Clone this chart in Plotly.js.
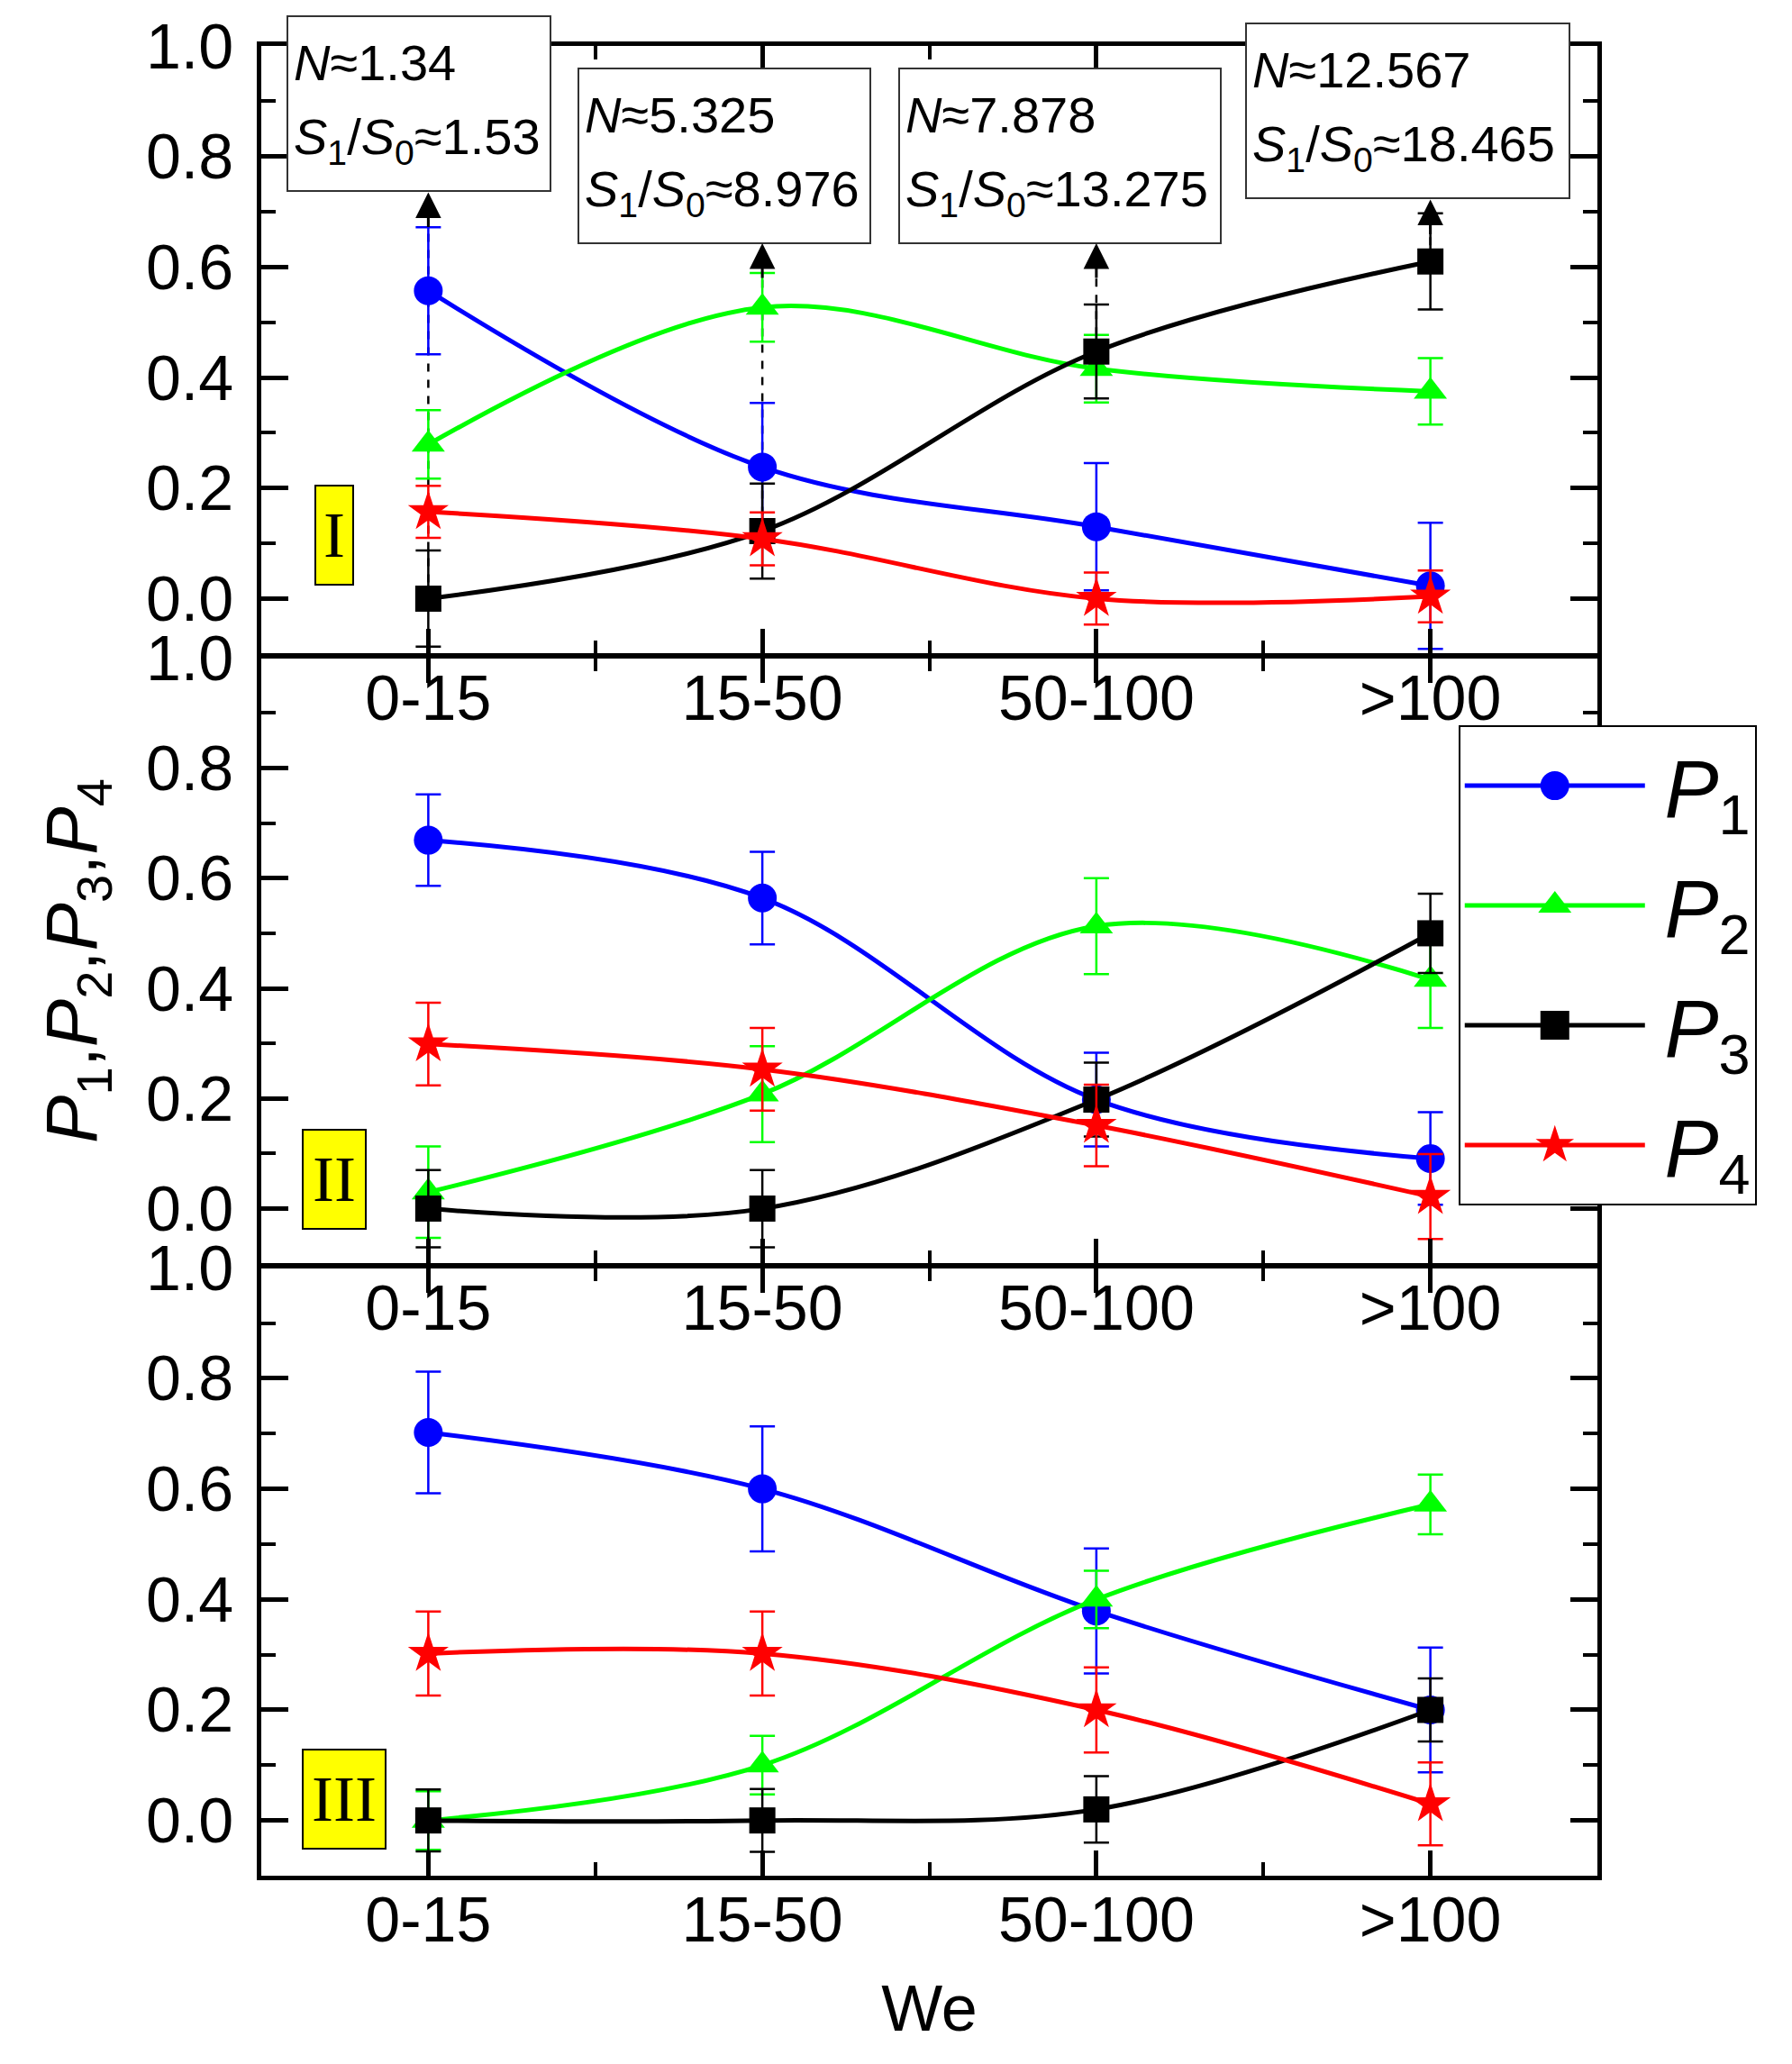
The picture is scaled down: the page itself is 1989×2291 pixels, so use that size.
<!DOCTYPE html>
<html>
<head>
<meta charset="utf-8">
<script src="https://cdn.plot.ly/plotly-3.0.1.min.js"></script>
<style>
  html, body { margin: 0; padding: 0; background: #fff; }
  #chart { width: 1989px; height: 2291px; }
</style>
</head>
<body>
<div id="chart"></div>
<script>
const categories = ['0-15', '15-50', '50-100', '>100'];
const panelLabels = ['I', 'II', 'III'];

// panel I
const p1Panel1 = [0.557, 0.238, 0.130, 0.023];
const p2Panel1 = [0.279, 0.527, 0.416, 0.375];
const p3Panel1 = [0.000, 0.122, 0.447, 0.610];
const p4Panel1 = [0.157, 0.108, 0.000, 0.004];
const p1ErrPanel1 = [0.115, 0.116, 0.115, 0.114];
const p2ErrPanel1 = [0.062, 0.062, 0.061, 0.060];
const p3ErrPanel1 = [0.087, 0.086, 0.085, 0.087];
const p4ErrPanel1 = [0.047, 0.048, 0.047, 0.047];

// panel II
const p1Panel2 = [0.669, 0.564, 0.198, 0.091];
const p2Panel2 = [0.030, 0.208, 0.513, 0.416];
const p3Panel2 = [0.000, 0.000, 0.198, 0.500];
const p4Panel2 = [0.299, 0.253, 0.151, 0.022];
const p1ErrPanel2 = [0.083, 0.084, 0.085, 0.084];
const p2ErrPanel2 = [0.083, 0.087, 0.087, 0.088];
const p3ErrPanel2 = [0.070, 0.070, 0.067, 0.072];
const p4ErrPanel2 = [0.075, 0.075, 0.074, 0.077];

// panel III
const p1Panel3 = [0.702, 0.600, 0.379, 0.200];
const p2Panel3 = [0.000, 0.100, 0.400, 0.572];
const p3Panel3 = [0.000, 0.000, 0.020, 0.200];
const p4Panel3 = [0.302, 0.302, 0.200, 0.030];
const p1ErrPanel3 = [0.110, 0.113, 0.113, 0.113];
const p2ErrPanel3 = [0.053, 0.053, 0.052, 0.054];
const p3ErrPanel3 = [0.056, 0.057, 0.060, 0.057];
const p4ErrPanel3 = [0.076, 0.076, 0.077, 0.075];

// boxes above panel I
const boxN = ['1.34', '5.325', '7.878', '12.567'];
const boxRatio = ['1.53', '8.976', '13.275', '18.465'];

const seriesLabels = ['<i>P</i><sub>1</sub>', '<i>P</i><sub>2</sub>', '<i>P</i><sub>3</sub>', '<i>P</i><sub>4</sub>'];
const seriesColors = ['#0000ff', '#00ff00', '#000000', '#ff0000'];
const seriesSymbols = ['circle', 'triangle-up', 'square', 'star'];
const markerSizes = [32, 32, 29, 34];

const panels = [
  { values: [p1Panel1, p2Panel1, p3Panel1, p4Panel1], errors: [p1ErrPanel1, p2ErrPanel1, p3ErrPanel1, p4ErrPanel1] },
  { values: [p1Panel2, p2Panel2, p3Panel2, p4Panel2], errors: [p1ErrPanel2, p2ErrPanel2, p3ErrPanel2, p4ErrPanel2] },
  { values: [p1Panel3, p2Panel3, p3Panel3, p4Panel3], errors: [p1ErrPanel3, p2ErrPanel3, p3ErrPanel3, p4ErrPanel3] }
];

const FONT = 'Liberation Sans, Arial, sans-serif';
const SERIF = 'Liberation Serif, Times New Roman, serif';
const FIG_W = 1989;
const FIG_H = 2291;
const MARGIN = { l: 290, r: 216, t: 51, b: 209 };
const LINE_W = 4.5;
const catIndex = categories.map((_, i) => i);

function axisSuffix(p) {
  return p === 0 ? '' : String(p + 1);
}

function buildTraces() {
  const traces = [];
  panels.forEach((panel, p) => {
    panel.values.forEach((vals, s) => {
      traces.push({
        type: 'scatter',
        mode: 'lines+markers',
        x: catIndex,
        y: vals,
        name: '<span style="font-size:60px"> </span>' + seriesLabels[s],
        legendgroup: 'g' + s,
        showlegend: p === 0,
        xaxis: 'x' + axisSuffix(p),
        yaxis: 'y' + axisSuffix(p),
        line: { color: seriesColors[s], width: 5, shape: 'spline', smoothing: 1 },
        marker: { color: seriesColors[s], symbol: seriesSymbols[s], size: markerSizes[s], line: { width: 0 } },
        error_y: { type: 'data', array: panel.errors[s], visible: true, color: seriesColors[s], thickness: 2.5, width: 14 }
      });
    });
  });
  return traces;
}

function xAxis(p) {
  const axis = {
    domain: [0, 1],
    anchor: 'y' + axisSuffix(p),
    range: [-0.5, 3.5],
    tickmode: 'array',
    tickvals: catIndex,
    ticktext: categories,
    ticks: 'inside',
    ticklen: 28,
    tickwidth: 5,
    tickcolor: '#000',
    minor: { tickmode: 'array', tickvals: catIndex.slice(1).map((i) => i - 0.5), ticks: 'inside', ticklen: 15, tickwidth: 4, tickcolor: '#000' },
    showline: true,
    linewidth: LINE_W,
    linecolor: '#000',
    mirror: 'allticks',
    showgrid: false,
    zeroline: false,
    tickfont: { family: FONT, size: 70, color: '#000' },
    ticklabelstandoff: -16
  };
  if (p === 2) {
    axis.title = { text: 'We', font: { family: FONT, size: 72, color: '#000' }, standoff: 36 };
  }
  return axis;
}

function yAxis(p) {
  // panels share their seam lines, so pull each domain in by half a line
  const plotH = FIG_H - MARGIN.t - MARGIN.b;
  const half = LINE_W / 2 / plotH;
  const top = 1 - p / 3;
  const bottom = top - 1 / 3;
  const axis = {
    domain: [p === 2 ? 0 : bottom + half, p === 0 ? 1 : top - half],
    anchor: 'x' + axisSuffix(p),
    range: [-0.1, 1.0],
    tick0: 0,
    dtick: 0.2,
    tickformat: '.1f',
    ticks: 'inside',
    ticklen: 30,
    tickwidth: 5,
    tickcolor: '#000',
    minor: { dtick: 0.1, ticks: 'inside', ticklen: 16, tickwidth: 4, tickcolor: '#000' },
    showline: true,
    linewidth: LINE_W,
    linecolor: '#000',
    mirror: 'allticks',
    showgrid: false,
    zeroline: false,
    tickfont: { family: FONT, size: 70, color: '#000' },
    ticklabelstandoff: 12
  };
  if (p === 1) {
    axis.title = {
      text: seriesLabels.join(','),
      font: { family: FONT, size: 80, color: '#000' },
      standoff: 29
    };
  }
  return axis;
}

// layout positions of the info boxes (panel I data units / px)
const boxX = [-0.027, 0.887, 1.891, 2.931];
const boxY = [0.895, 0.801, 0.801, 0.882];
const boxW = [294, 326, 359, 361];
const boxH = 196;
const boxBottom = [0.735, 0.643, 0.643, 0.722];

function buildAnnotations() {
  const notes = [];
  boxN.forEach((n, i) => {
    const common = { xref: 'x', yref: 'y', x: boxX[i], y: boxY[i], showarrow: false };
    notes.push({
      ...common, text: ' ', width: boxW[i] - 4, height: boxH - 4, borderpad: 0,
      bgcolor: '#fff', bordercolor: '#333', borderwidth: 2
    });
    notes.push({
      ...common, text: '<i>N</i>≈' + n, xanchor: 'left', yanchor: 'middle',
      xshift: -boxW[i] / 2 + 6, yshift: 46,
      font: { family: FONT, size: 56, color: '#000' }
    });
    notes.push({
      ...common, text: '<i>S</i><sub>1</sub>/<i>S</i><sub>0</sub>≈' + boxRatio[i], xanchor: 'left', yanchor: 'middle',
      xshift: -boxW[i] / 2 + 6, yshift: -40,
      font: { family: FONT, size: 56, color: '#000' }
    });
    notes.push({
      xref: 'x', yref: 'y', x: catIndex[i], y: boxBottom[i],
      text: '', showarrow: true, ax: 0, ay: 40,
      arrowhead: 2, arrowsize: 1.9, arrowwidth: 3, arrowcolor: '#000', standoff: 0
    });
  });
  const romanX = [-0.282, -0.282, -0.253];
  const romanY = [0.114, 0.054, 0.039];
  const romanW = [40, 68, 90];
  panelLabels.forEach((label, p) => {
    notes.push({
      xref: 'x' + axisSuffix(p), yref: 'y' + axisSuffix(p), x: romanX[p], y: romanY[p],
      text: label, showarrow: false, width: romanW[p], height: 108, borderpad: 0,
      bgcolor: '#ffff00', bordercolor: '#000', borderwidth: 2,
      font: { family: SERIF, size: 72, color: '#000' }
    });
  });
  return notes;
}

function buildShapes() {
  return catIndex.map((i) => ({
    type: 'line', xref: 'x', yref: 'y', layer: 'below',
    x0: i, x1: i, y0: p3Panel1[i], y1: boxBottom[i] - 0.05,
    line: { color: '#000', width: 2.5, dash: 'dash' }
  }));
}

const layout = {
  width: FIG_W,
  height: FIG_H,
  margin: MARGIN,
  paper_bgcolor: '#fff',
  plot_bgcolor: '#fff',
  showlegend: true,
  legend: {
    x: 0.896, y: 0.6287, xanchor: 'left', yanchor: 'top',
    bgcolor: '#fff', bordercolor: '#000', borderwidth: 2,
    font: { family: FONT, size: 90, color: '#000' },
    itemwidth: 200, tracegroupgap: 13, traceorder: 'grouped'
  },
  annotations: buildAnnotations(),
  shapes: buildShapes()
};
[0, 1, 2].forEach((p) => {
  layout['xaxis' + axisSuffix(p)] = xAxis(p);
  layout['yaxis' + axisSuffix(p)] = yAxis(p);
});

Plotly.newPlot('chart', buildTraces(), layout, { displayModeBar: false }).then((gd) => {
  // legend symbols are capped at 16px by plotly; grow them to the plotted size
  gd.querySelectorAll('.legend .legendpoints path.scatterpts').forEach((pt) => {
    const t = pt.getAttribute('transform') || '';
    pt.setAttribute('transform', t + ' scale(2)');
  });
});
</script>
</body>
</html>
